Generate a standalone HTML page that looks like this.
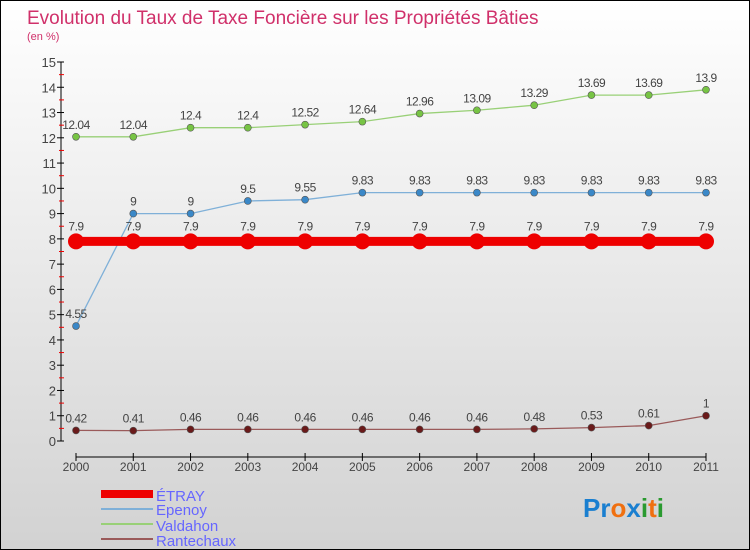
<!DOCTYPE html>
<html><head><meta charset="utf-8"><style>
body{margin:0;width:750px;height:550px;overflow:hidden;font-family:"Liberation Sans",sans-serif}
#wrap{position:relative;width:748px;height:548px;border:1px solid #000;background:linear-gradient(#fff,#d2d2d2)}
</style></head><body>
<div id="wrap">
<svg id="chart" width="748" height="548" style="position:absolute;left:0;top:0">
<text x="26" y="23" font-size="19" fill="#d0306a">Evolution du Taux de Taxe Foncière sur les Propriétés Bâties</text>
<text x="26" y="39" font-size="11" fill="#d0306a">(en %)</text>
<g id="axes"></g><g id="series"></g>
<g>
<rect x="100" y="489" width="52" height="8" fill="#e00"/>
<text x="155" y="500" font-size="15" fill="#6666ff">ÉTRAY</text>
<rect x="100" y="507" width="52" height="2" fill="#7fb0d8"/>
<text x="155" y="514" font-size="15" fill="#6666ff">Epenoy</text>
<rect x="100" y="522" width="52" height="2" fill="#99d077"/>
<text x="155" y="530" font-size="15" fill="#6666ff">Valdahon</text>
<rect x="100" y="537" width="52" height="2" fill="#9a5a5a"/>
<text x="155" y="545" font-size="15" fill="#6666ff">Rantechaux</text>
</g>
<text x="582" y="516" font-size="26" font-weight="bold"><tspan fill="#1a7fd0">Pr</tspan><tspan fill="#f07010">o</tspan><tspan fill="#1a7fd0">x</tspan><tspan fill="#2a9a30">i</tspan><tspan fill="#f07010">t</tspan><tspan fill="#2a9a30">i</tspan></text>
</svg></div>
<script>
const years=["2000","2001","2002","2003","2004","2005","2006","2007","2008","2009","2010","2011"];
const etray=[7.9,7.9,7.9,7.9,7.9,7.9,7.9,7.9,7.9,7.9,7.9,7.9];
const epenoy=[4.55,9,9,9.5,9.55,9.83,9.83,9.83,9.83,9.83,9.83,9.83];
const valdahon=[12.04,12.04,12.4,12.4,12.52,12.64,12.96,13.09,13.29,13.69,13.69,13.9];
const rantechaux=[0.42,0.41,0.46,0.46,0.46,0.46,0.46,0.46,0.48,0.53,0.61,1];
const yTicks=[0,1,2,3,4,5,6,7,8,9,10,11,12,13,14,15];
const NS="http://www.w3.org/2000/svg";
const X=i=>75+i*(705-75)/(years.length-1);
const Y=v=>440-v*(440-61)/15;
function mk(t,a,p){const e=document.createElementNS(NS,t);for(const k in a)e.setAttribute(k,a[k]);p.appendChild(e);return e;}
const ax=document.getElementById('axes');
let l=mk('line',{x1:60,y1:Y(15),x2:60,y2:Y(0),stroke:'#000'},ax);


yTicks.forEach(v=>{
 mk('line',{x1:56,x2:63,y1:Y(v),y2:Y(v),stroke:'#000'},ax);
 if(v<15)mk('line',{x1:58,x2:63,y1:Y(v+0.5),y2:Y(v+0.5),stroke:'#e00'},ax);
 const t=mk('text',{x:55,y:Y(v)+5,'text-anchor':'end','font-size':13,fill:'#444'},ax);t.textContent=v;
 
 
});
l=mk('line',{x1:X(0),x2:X(11),y1:456,y2:456,stroke:'#000'},ax);


years.forEach((y,i)=>{
 mk('line',{x1:X(i),x2:X(i),y1:452,y2:460,stroke:'#000'},ax);
 const t=mk('text',{x:X(i),y:470,'text-anchor':'middle','font-size':12,fill:'#444'},ax);t.textContent=y;
 
 
});
const sg=document.getElementById('series');
function series(name,vals,color,lw,r,mcol){
 const g=mk('g',{},sg);
 
 
 const pl=mk('polyline',{points:vals.map((v,i)=>X(i)+','+Y(v)).join(' '),fill:'none',stroke:color,'stroke-width':lw},g);
 
 
 vals.forEach((v,i)=>{
  const c=mk('circle',{cx:X(i),cy:Y(v),r:r,fill:mcol,stroke:'#555','stroke-width':r>5?0:0.6},g);
  
  
  const t=mk('text',{x:X(i),y:Y(v)-(r>5?11:8),'text-anchor':'middle','font-size':12,fill:'#444','letter-spacing':'-0.5'},g);t.textContent=v;
  
  
 });
}
series('valdahon',valdahon,'#99d077',1.3,3.5,'#77c444');
series('epenoy',epenoy,'#7fb0d8',1.3,3.5,'#3a88c8');
series('rantechaux',rantechaux,'#9a5a5a',1.3,3.5,'#6a1a1a');
series('etray',etray,'#e00',9,8,'#e00');
</script>
</body></html>
